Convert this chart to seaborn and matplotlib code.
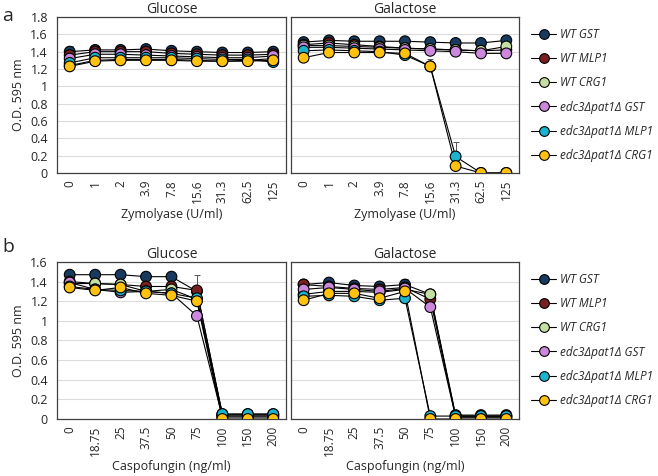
import numpy as np
import pandas as pd
import matplotlib
matplotlib.use("Agg")
import matplotlib.pyplot as plt
from matplotlib.lines import Line2D
import seaborn as sns

sns.set_style("white")
plt.rcParams['font.family'] = ['Open Sans', 'DejaVu Sans']

# series names and colours
strains = ["WT GST", "WT MLP1", "WT CRG1",
           "edc3Δpat1Δ GST", "edc3Δpat1Δ MLP1", "edc3Δpat1Δ CRG1"]
colors = ["#173a5e", "#7a1f1f", "#c4dea4", "#cc88dd", "#1cb4cc", "#ffc20e"]

zymo_labels = ["0", "1", "2", "3.9", "7.8", "15.6", "31.3", "62.5", "125"]
caspo_labels = ["0", "18.75", "25", "37.5", "50", "75", "100", "150", "200"]

# panel a - Zymolyase, glucose
zymo_glu = [
    [1.40, 1.42, 1.42, 1.43, 1.41, 1.40, 1.39, 1.39, 1.40],
    [1.36, 1.40, 1.40, 1.40, 1.38, 1.37, 1.36, 1.36, 1.37],
    [1.24, 1.30, 1.31, 1.31, 1.31, 1.30, 1.29, 1.30, 1.32],
    [1.32, 1.37, 1.37, 1.36, 1.35, 1.34, 1.33, 1.33, 1.35],
    [1.27, 1.33, 1.33, 1.33, 1.33, 1.32, 1.31, 1.31, 1.28],
    [1.23, 1.29, 1.30, 1.30, 1.30, 1.29, 1.29, 1.29, 1.30],
]
zymo_glu_err = [
    [0.06, 0.04, 0.03, 0.04, 0.03, 0.03, 0.05, 0.03, 0.03],
    [0.03, 0.03, 0.02, 0.02, 0.02, 0.02, 0.02, 0.02, 0.02],
    [0.02, 0.02, 0.02, 0.02, 0.02, 0.02, 0.02, 0.02, 0.02],
    [0.02, 0.02, 0.02, 0.02, 0.02, 0.02, 0.02, 0.02, 0.02],
    [0.02, 0.02, 0.02, 0.02, 0.02, 0.02, 0.02, 0.02, 0.02],
    [0.02, 0.02, 0.02, 0.02, 0.02, 0.02, 0.02, 0.02, 0.02],
]
# panel a - Zymolyase, galactose
zymo_gal = [
    [1.51, 1.53, 1.52, 1.52, 1.52, 1.51, 1.50, 1.50, 1.53],
    [1.48, 1.50, 1.48, 1.46, 1.44, 1.43, 1.42, 1.41, 1.42],
    [1.47, 1.47, 1.46, 1.45, 1.44, 1.43, 1.42, 1.41, 1.46],
    [1.45, 1.45, 1.44, 1.43, 1.42, 1.41, 1.40, 1.38, 1.38],
    [1.41, 1.42, 1.41, 1.40, 1.36, 1.23, 0.19, 0.00, 0.00],
    [1.33, 1.39, 1.39, 1.39, 1.38, 1.23, 0.08, 0.00, 0.00],
]
zymo_gal_err = [
    [0.02, 0.02, 0.02, 0.02, 0.02, 0.02, 0.02, 0.02, 0.02],
    [0.02, 0.02, 0.02, 0.02, 0.02, 0.02, 0.02, 0.02, 0.02],
    [0.02, 0.02, 0.02, 0.02, 0.02, 0.02, 0.02, 0.02, 0.02],
    [0.02, 0.02, 0.02, 0.02, 0.02, 0.02, 0.02, 0.02, 0.02],
    [0.02, 0.02, 0.02, 0.02, 0.02, 0.08, 0.17, 0.00, 0.00],
    [0.02, 0.02, 0.02, 0.02, 0.02, 0.05, 0.02, 0.00, 0.00],
]
# panel b - Caspofungin, glucose
caspo_glu = [
    [1.47, 1.47, 1.47, 1.45, 1.45, 1.30, 0.05, 0.05, 0.05],
    [1.40, 1.38, 1.37, 1.35, 1.35, 1.31, 0.04, 0.04, 0.04],
    [1.38, 1.38, 1.37, 1.30, 1.32, 1.22, 0.03, 0.03, 0.03],
    [1.39, 1.32, 1.29, 1.30, 1.28, 1.05, 0.02, 0.02, 0.02],
    [1.35, 1.32, 1.31, 1.30, 1.28, 1.23, 0.05, 0.05, 0.05],
    [1.34, 1.31, 1.34, 1.28, 1.26, 1.20, 0.00, 0.00, 0.00],
]
caspo_glu_err = [
    [0.02, 0.02, 0.02, 0.02, 0.02, 0.02, 0.01, 0.01, 0.01],
    [0.02, 0.02, 0.02, 0.02, 0.02, 0.16, 0.01, 0.01, 0.01],
    [0.02, 0.02, 0.02, 0.02, 0.02, 0.02, 0.01, 0.01, 0.01],
    [0.02, 0.02, 0.02, 0.02, 0.02, 0.02, 0.01, 0.01, 0.01],
    [0.02, 0.02, 0.02, 0.02, 0.02, 0.02, 0.01, 0.01, 0.01],
    [0.02, 0.02, 0.02, 0.02, 0.02, 0.02, 0.01, 0.01, 0.01],
]
# panel b - Caspofungin, galactose
caspo_gal = [
    [1.37, 1.39, 1.36, 1.35, 1.37, 1.27, 0.04, 0.04, 0.04],
    [1.37, 1.35, 1.33, 1.32, 1.34, 1.22, 0.03, 0.03, 0.03],
    [1.27, 1.30, 1.30, 1.29, 1.32, 1.27, 0.02, 0.02, 0.02],
    [1.32, 1.34, 1.32, 1.30, 1.33, 1.14, 0.02, 0.02, 0.02],
    [1.25, 1.26, 1.25, 1.21, 1.23, 0.03, 0.03, 0.03, 0.03],
    [1.21, 1.28, 1.28, 1.23, 1.30, 0.00, 0.00, 0.00, 0.00],
]
caspo_gal_err = [
    [0.02, 0.02, 0.03, 0.05, 0.06, 0.02, 0.01, 0.01, 0.01],
    [0.02, 0.02, 0.02, 0.02, 0.02, 0.02, 0.01, 0.01, 0.01],
    [0.02, 0.02, 0.02, 0.02, 0.02, 0.02, 0.01, 0.01, 0.01],
    [0.02, 0.02, 0.02, 0.02, 0.02, 0.02, 0.01, 0.01, 0.01],
    [0.02, 0.02, 0.02, 0.02, 0.02, 0.01, 0.01, 0.01, 0.01],
    [0.02, 0.02, 0.02, 0.02, 0.02, 0.00, 0.00, 0.00, 0.00],
]


def draw_panel(ax, values, errs, labels, xlabel, title, ymax, show_y):
    rows = []
    for name, vals in zip(strains, values):
        for i, v in enumerate(vals):
            rows.append({"strain": name, "pos": i, "od": v})
    df = pd.DataFrame(rows)

    # upper error bars in grey
    for vals, e in zip(values, errs):
        x = np.arange(len(vals))
        ax.errorbar(x, vals, yerr=[np.zeros(len(e)), e], fmt='none',
                    ecolor='#555555', elinewidth=0.7, capsize=2, capthick=0.7,
                    zorder=2)

    sns.lineplot(data=df, x="pos", y="od", units="strain", estimator=None,
                 color="black", lw=0.8, ax=ax, zorder=3, legend=False)
    sns.scatterplot(data=df, x="pos", y="od", hue="strain", hue_order=strains,
                    palette=colors, s=60, edgecolor="black", linewidth=0.8,
                    ax=ax, zorder=4, legend=False)

    ax.set_xlim(-0.5, len(labels) - 0.5)
    ax.set_ylim(0, ymax)
    ax.set_yticks(np.arange(0, ymax + 0.01, 0.2))
    ax.yaxis.grid(True, color="#dcdcdc", lw=0.8)
    ax.set_axisbelow(True)

    ax.set_xticks(range(len(labels)))
    ax.set_xticklabels(labels, rotation=90, fontsize=8.5)
    ax.set_xticks(np.arange(-0.5, len(labels), 1.0), minor=True)
    ax.tick_params(axis="x", which="major", length=0, pad=5)
    ax.tick_params(axis="x", which="minor", length=4, width=0.8,
                   direction="out", color="#404040")
    ax.tick_params(axis="y", labelsize=9, length=3, direction="out",
                   color="#404040")

    if show_y:
        ax.set_yticklabels([f"{t:g}" for t in ax.get_yticks()])
        ax.set_ylabel("O.D. 595 nm", fontsize=9)
    else:
        ax.set_yticklabels([])
        ax.tick_params(axis="y", length=0)
        ax.set_ylabel("")
    ax.set_xlabel(xlabel, fontsize=9, labelpad=3)
    ax.set_title(title, fontsize=10, pad=3)
    for sp in ax.spines.values():
        sp.set_color("#404040")
        sp.set_linewidth(0.9)


fig = plt.figure(figsize=(6.58, 4.76), dpi=100)

w = 0.348
ax_a1 = fig.add_axes([0.0866, 0.6366, w, 0.3277])
ax_a2 = fig.add_axes([0.4422, 0.6366, 0.3465, 0.3277])
ax_b1 = fig.add_axes([0.0866, 0.1197, w, 0.3300])
ax_b2 = fig.add_axes([0.4422, 0.1197, 0.3465, 0.3300])

draw_panel(ax_a1, zymo_glu, zymo_glu_err, zymo_labels, "Zymolyase (U/ml)",
           "Glucose", 1.8, True)
draw_panel(ax_a2, zymo_gal, zymo_gal_err, zymo_labels, "Zymolyase (U/ml)",
           "Galactose", 1.8, False)
draw_panel(ax_b1, caspo_glu, caspo_glu_err, caspo_labels,
           "Caspofungin (ng/ml)", "Glucose", 1.6, True)
draw_panel(ax_b2, caspo_gal, caspo_gal_err, caspo_labels,
           "Caspofungin (ng/ml)", "Galactose", 1.6, False)

handles = [Line2D([0], [0], color="black", lw=0.8, marker="o", markersize=7,
                  markerfacecolor=c, markeredgecolor="black", markeredgewidth=0.8)
           for c in colors]
for ax in (ax_a2, ax_b2):
    ax.legend(handles, strains, loc="upper left", bbox_to_anchor=(1.03, 0.96),
              frameon=False, prop={"style": "italic", "size": 8.5},
              handlelength=2.2, handletextpad=0.3, labelspacing=0.95,
              borderaxespad=0)

fig.text(0.003, 0.985, "a", fontsize=14, va="top")
fig.text(0.003, 0.50, "b", fontsize=14, va="top")

fig.savefig("out.png", dpi=100)
